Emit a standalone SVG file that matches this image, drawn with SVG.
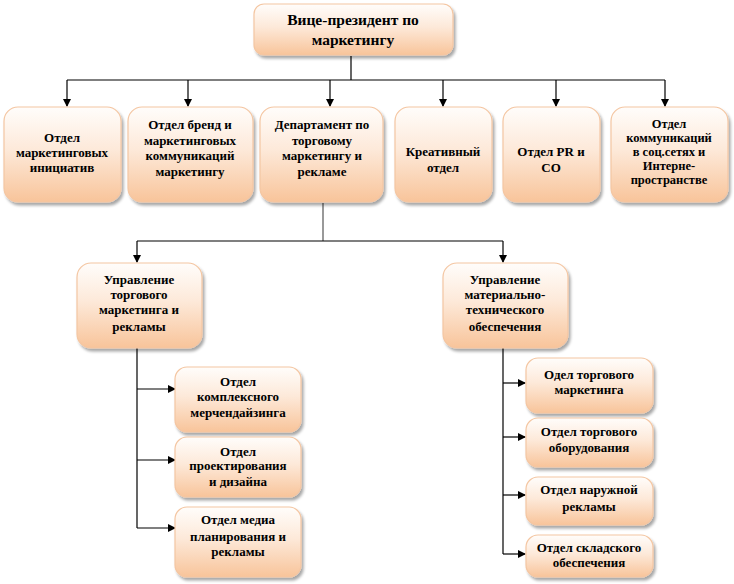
<svg xmlns="http://www.w3.org/2000/svg" width="734" height="584" viewBox="0 0 734 584">
<defs>
<linearGradient id="g" x1="0" y1="0" x2="0" y2="1">
<stop offset="0" stop-color="#fffdfb"/>
<stop offset="0.45" stop-color="#fde9d9"/>
<stop offset="1" stop-color="#f8c49a"/>
</linearGradient>
<filter id="sh" x="-10%" y="-10%" width="125%" height="130%">
<feGaussianBlur in="SourceAlpha" stdDeviation="1.5"/>
<feOffset dx="2" dy="3" result="b"/>
<feComponentTransfer><feFuncA type="linear" slope="0.35"/></feComponentTransfer>
<feMerge><feMergeNode/><feMergeNode in="SourceGraphic"/></feMerge>
</filter>
<marker id="ah" markerWidth="8" markerHeight="8" refX="7" refY="4" orient="auto" markerUnits="userSpaceOnUse">
<path d="M0,0 L8,4 L0,8 Z" fill="#000"/>
</marker>
</defs>
<style>
.box{fill:url(#g);stroke:#f4c6a2;stroke-width:1.2;filter:url(#sh)}
.t{font-weight:bold;font-size:13px;fill:#000;text-anchor:middle}
.big{font-size:15.5px}
.sm{font-size:12.5px}
.c{fill:none;stroke:#000;stroke-width:1.2}
</style>
<rect width="734" height="584" fill="#fff"/>
<g id="connectors">
<path class="c" d="M351,56 V80"/>
<path class="c" d="M67,80 H665"/>
<path class="c" marker-end="url(#ah)" d="M67,80 V106"/>
<path class="c" marker-end="url(#ah)" d="M188,80 V106"/>
<path class="c" marker-end="url(#ah)" d="M330,80 V106"/>
<path class="c" marker-end="url(#ah)" d="M443,80 V106"/>
<path class="c" marker-end="url(#ah)" d="M556,80 V106"/>
<path class="c" marker-end="url(#ah)" d="M665,80 V106"/>
<path class="c" style="stroke:#555" d="M323,203 V241"/>
<path class="c" d="M137,241 H503"/>
<path class="c" marker-end="url(#ah)" d="M137,241 V262"/>
<path class="c" marker-end="url(#ah)" d="M503,241 V262"/>
<path class="c" d="M137,348 V528"/>
<path class="c" marker-end="url(#ah)" d="M137,389 H175"/>
<path class="c" marker-end="url(#ah)" d="M137,460 H175"/>
<path class="c" marker-end="url(#ah)" d="M137,528 H175"/>
<path class="c" d="M503,348 V554"/>
<path class="c" marker-end="url(#ah)" d="M503,383 H525"/>
<path class="c" marker-end="url(#ah)" d="M503,437 H525"/>
<path class="c" marker-end="url(#ah)" d="M503,495 H525"/>
<path class="c" marker-end="url(#ah)" d="M503,554 H525"/>
</g>
<g font-family="'Liberation Serif', 'Times New Roman', 'DejaVu Serif', serif">
<g id="n0"><rect class="box" x="254" y="4" width="199" height="51" rx="10"/>
<text class="t big" x="353" y="25">Вице-президент по</text><text class="t big" x="353" y="45">маркетингу</text></g>
<g id="n1"><rect class="box" x="4" y="107" width="117" height="95" rx="14"/>
<text class="t" x="62" y="142">Отдел</text><text class="t" x="62" y="157">маркетинговых</text><text class="t" x="62" y="172">инициатив</text></g>
<g id="n2"><rect class="box" x="128" y="107" width="125" height="95" rx="14"/>
<text class="t" x="190" y="129">Отдел бренд и</text><text class="t" x="190" y="145">маркетинговых</text><text class="t" x="190" y="160">коммуникаций</text><text class="t" x="190" y="176">маркетингу</text></g>
<g id="n3"><rect class="box" x="260" y="107" width="123" height="95" rx="14"/>
<text class="t" x="322" y="129">Департамент по</text><text class="t" x="322" y="145">торговому</text><text class="t" x="322" y="160">маркетингу и</text><text class="t" x="322" y="176">рекламе</text></g>
<g id="n4"><rect class="box" x="395" y="107" width="97" height="95" rx="14"/>
<text class="t" x="443" y="156">Креативный</text><text class="t" x="443" y="172">отдел</text></g>
<g id="n5"><rect class="box" x="503" y="107" width="97" height="95" rx="14"/>
<text class="t" x="551" y="156">Отдел PR и</text><text class="t" x="551" y="172">СО</text></g>
<g id="n6"><rect class="box" x="611" y="107" width="117" height="95" rx="14"/>
<text class="t sm" x="669" y="128">Отдел</text><text class="t sm" x="669" y="142">коммуникаций</text><text class="t sm" x="669" y="156">в соц.сетях и</text><text class="t sm" x="669" y="170">Интерне-</text><text class="t sm" x="669" y="184">пространстве</text></g>
<g id="n7"><rect class="box" x="77" y="263" width="125" height="85" rx="14"/>
<text class="t" x="139" y="284">Управление</text><text class="t" x="139" y="299">торгового</text><text class="t" x="139" y="314">маркетинга и</text><text class="t" x="139" y="331">рекламы</text></g>
<g id="n8"><rect class="box" x="443" y="263" width="125" height="85" rx="14"/>
<text class="t" x="505" y="284">Управление</text><text class="t" x="505" y="299">материально-</text><text class="t" x="505" y="314">технического</text><text class="t" x="505" y="331">обеспечения</text></g>
<g id="n9"><rect class="box" x="175" y="367" width="126" height="65" rx="12"/>
<text class="t" x="238" y="386">Отдел</text><text class="t" x="238" y="401">комплексного</text><text class="t" x="238" y="417">мерчендайзинга</text></g>
<g id="n10"><rect class="box" x="175" y="437" width="126" height="60" rx="12"/>
<text class="t" x="238" y="456">Отдел</text><text class="t" x="238" y="470">проектирования</text><text class="t" x="238" y="486">и дизайна</text></g>
<g id="n11"><rect class="box" x="175" y="507" width="126" height="70" rx="12"/>
<text class="t" x="238" y="524">Отдел медиа</text><text class="t" x="238" y="541">планирования и</text><text class="t" x="238" y="556">рекламы</text></g>
<g id="n12"><rect class="box" x="526" y="358" width="127" height="55" rx="12"/>
<text class="t" x="589" y="379">Одел торгового</text><text class="t" x="589" y="394">маркетинга</text></g>
<g id="n13"><rect class="box" x="526" y="418" width="127" height="49" rx="12"/>
<text class="t" x="589" y="436">Отдел торгового</text><text class="t" x="589" y="452">оборудования</text></g>
<g id="n14"><rect class="box" x="526" y="477" width="127" height="48" rx="12"/>
<text class="t" x="589" y="494">Отдел наружной</text><text class="t" x="589" y="511">рекламы</text></g>
<g id="n15"><rect class="box" x="526" y="535" width="127" height="42" rx="12"/>
<text class="t" x="589" y="552">Отдел складского</text><text class="t" x="589" y="567">обеспечения</text></g>
</g>
</svg>
